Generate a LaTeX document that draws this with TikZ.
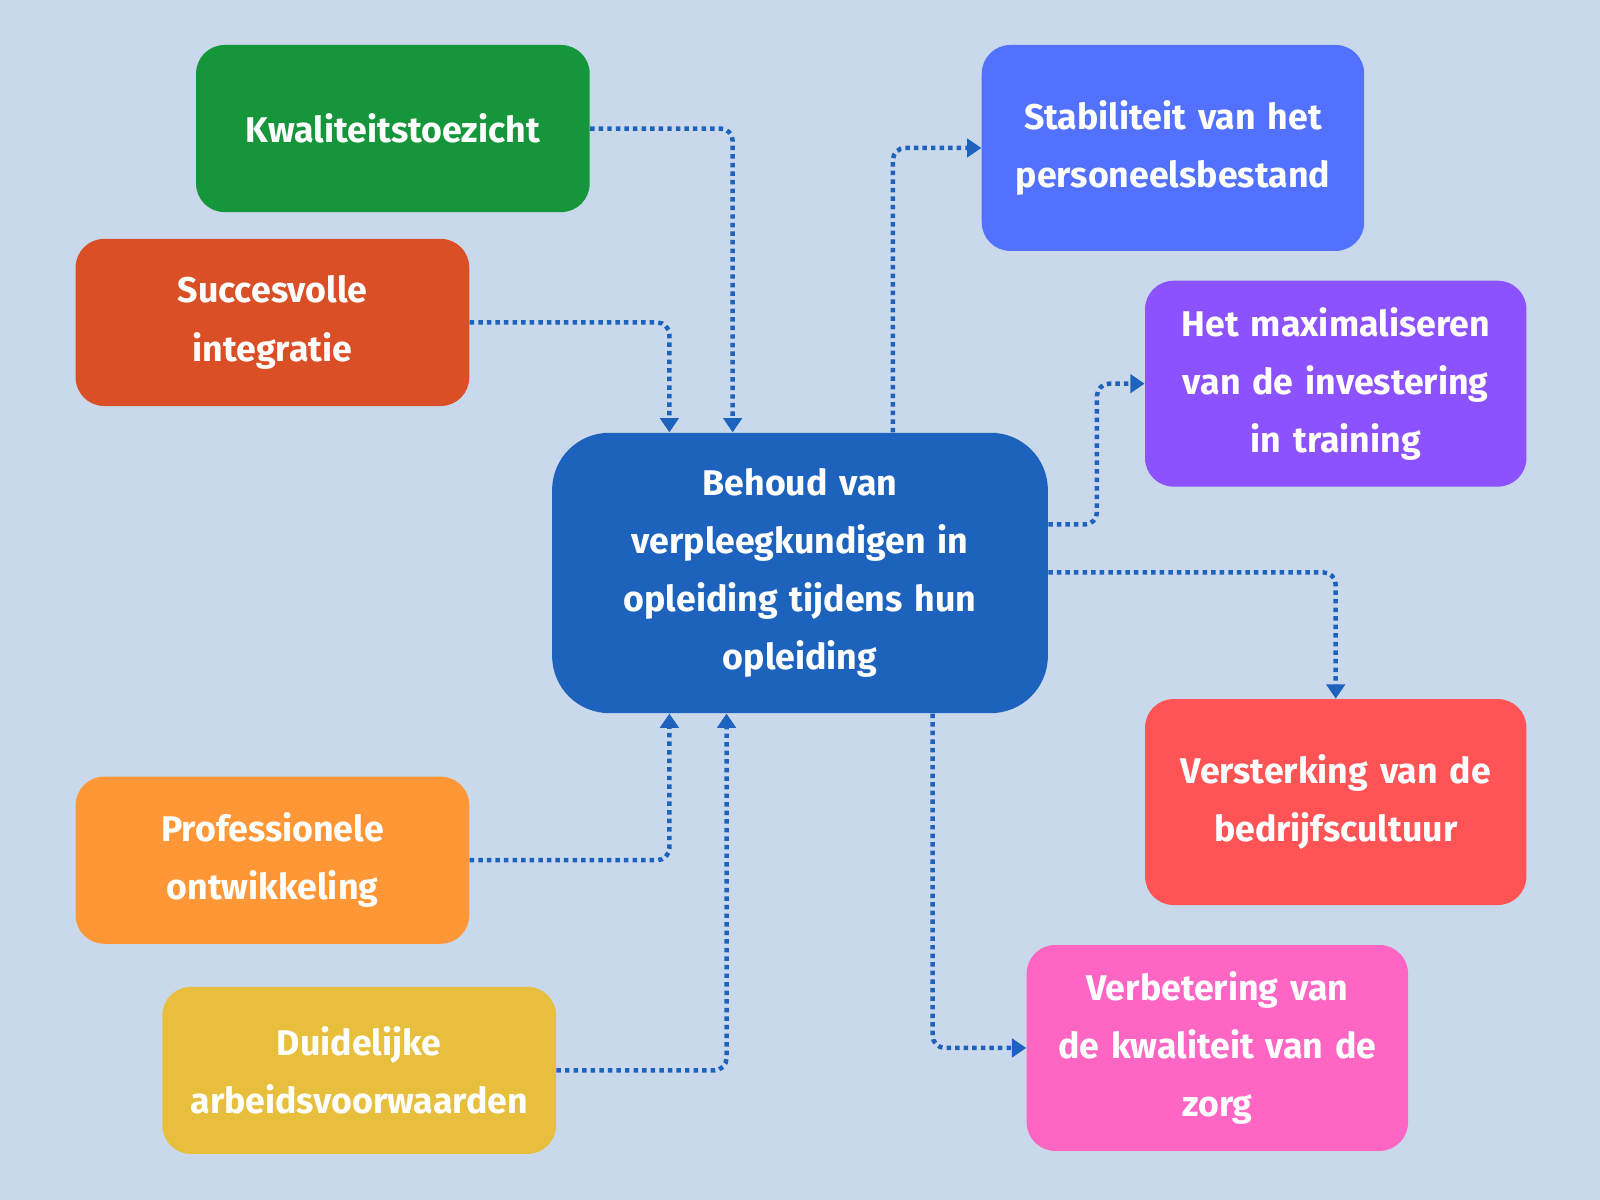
\documentclass[tikz,border=0pt]{standalone}
\usepackage{fontspec}
\setmainfont{Fira Sans}
\usetikzlibrary{arrows.meta}
\definecolor{bg}{HTML}{C9D9EB}
\definecolor{ln}{HTML}{1D63BE}
\tikzset{
 box/.style={rounded corners=14pt, text=white, align=center, font=\bfseries\fontsize{17.5}{28.5}\selectfont, inner sep=0pt},
 conn/.style={draw=ln, line width=2.2pt, dotted, rounded corners=6pt, -{Triangle[length=7pt,width=9pt]}},
}
\begin{document}
\begin{tikzpicture}[x=0.5pt,y=-0.5pt]
\fill[bg] (0,0) rectangle (1568,1176);
\useasboundingbox (0,0) rectangle (1568,1176);
\newcommand\bx[7]{\node[box, fill=#6, minimum width=#4*0.5pt-0.1pt, minimum height=#5*0.5pt-0.1pt, text width=#4*0.5pt-4pt] (#1) at (#2,#3) {#7};}
\definecolor{cg}{HTML}{16963A}\definecolor{cr}{HTML}{DA4F25}\definecolor{cc}{HTML}{1D63BE}
\definecolor{cb}{HTML}{5271FF}\definecolor{cp}{HTML}{8C52FF}\definecolor{cred}{HTML}{FF5356}
\definecolor{cpk}{HTML}{FF66C4}\definecolor{co}{HTML}{FF9736}\definecolor{cy}{HTML}{E8BE3D}
\bx{k}{385}{126}{386}{164}{cg}{Kwaliteitstoezicht}
\bx{s}{267}{316}{386}{164}{cr}{Succesvolle\\integratie}
\node[box, fill=cc, rounded corners=28pt, minimum width=242.9pt, minimum height=137.4pt, text width=220pt] (c) at (784,561.5) {Behoud van\\verpleegkundigen in\\opleiding tijdens hun\\opleiding};
\bx{st}{1149.5}{145}{375}{202}{cb}{Stabiliteit van het\\personeelsbestand}
\bx{m}{1309}{376}{374}{202}{cp}{Het maximaliseren\\van de investering\\in training}
\bx{v}{1309}{786}{374}{202}{cred}{Versterking van de\\bedrijfscultuur}
\bx{vb}{1193}{1027}{374}{202}{cpk}{Verbetering van\\de kwaliteit van de\\zorg}
\bx{p}{267}{843}{386}{164}{co}{Professionele\\ontwikkeling}
\bx{d}{352}{1049}{386}{164}{cy}{Duidelijke\\arbeidsvoorwaarden}
\draw[conn] (k.east) -| (c.north -| 718,0);
\draw[conn] (s.east) -| (c.north -| 656,0);
\draw[conn] (p.east) -| (c.south -| 656,0);
\draw[conn] (d.east) -| (c.south -| 712,0);
\draw[conn] (c.north -| 875,0) |- (st.west);
\draw[conn] (c.east |- 0,514) -| (1075,445) |- (m.west);
\draw[conn] (c.east |- 0,561) -| (v.north);
\draw[conn] (c.south -| 914,0) |- (vb.west);
\end{tikzpicture}
\end{document}
